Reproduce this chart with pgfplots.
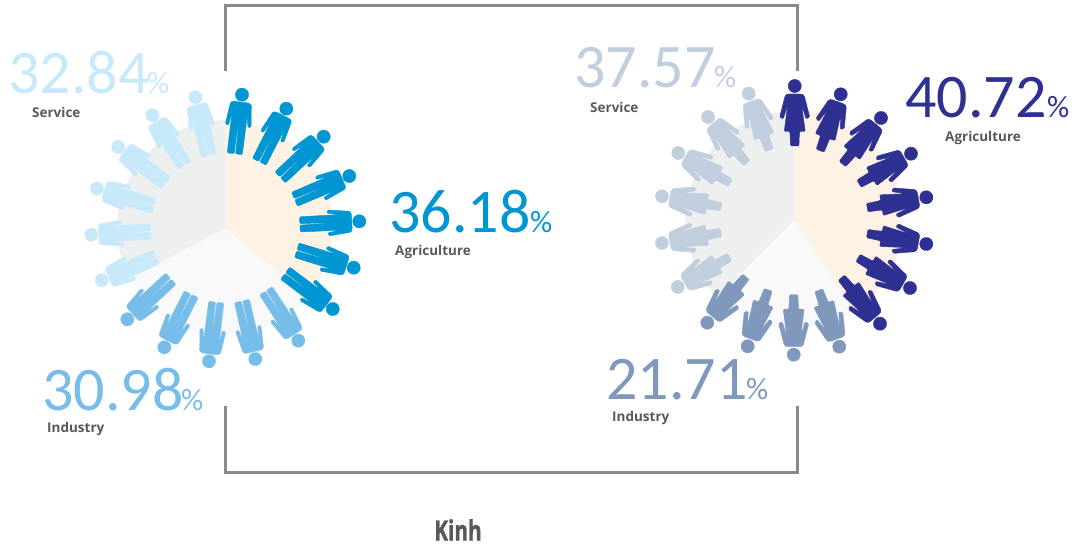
\documentclass[border=0pt]{standalone}
\usepackage{pgfplots}
\usepackage{graphicx}
\usepackage{fontspec}
\pgfplotsset{compat=1.18}
\setmainfont{Carlito}
\newfontfamily\lab{Open Sans}
\newfontfamily\kinhf{Open Sans}[BoldFeatures={FakeBold=1.5}]
\definecolor{gr}{HTML}{58595B}
\definecolor{fr}{HTML}{8A8A8D}
\definecolor{bga}{HTML}{FDF2E4}
\definecolor{bgi}{HTML}{F9F9F9}
\definecolor{bgs}{HTML}{EEF0EF}
\definecolor{la}{HTML}{0095D3}
\definecolor{li}{HTML}{77BDE9}
\definecolor{ls}{HTML}{C7E9F9}
\definecolor{ra}{HTML}{2E3192}
\definecolor{ri}{HTML}{7F98BC}
\definecolor{rs}{HTML}{C1CEDD}
\pgfdeclareplotmark{man}{%
  \fill[x=1pt,y=1pt] (0,0) circle (6.6);
  \fill[x=1pt,y=1pt,rounded corners=1.1pt]
    (-8,-7.5)--(8,-7.5)--(10.5,-9)--(13,-31)--(9.8,-32)--(7.8,-19)--(7.6,-59.5)--(0.7,-59.5)--(0.4,-34)--(-0.4,-34)--(-0.7,-59.5)--(-7.6,-59.5)--(-7.8,-19)--(-9.8,-32)--(-13,-31)--(-10.5,-9)--cycle;
}
\pgfdeclareplotmark{woman}{%
  \fill[x=1pt,y=1pt] (0,0) circle (6.6);
  \fill[x=1pt,y=1pt,rounded corners=1.1pt]
    (-7,-8)--(7,-8)--(9.5,-9.5)--(15,-31)--(11.5,-33)--(7,-19)--(10.5,-45.5)--(4.8,-45.5)--(4.2,-60)--(-4.2,-60)--(-4.8,-45.5)--(-10.5,-45.5)--(-7,-19)--(-11.5,-33)--(-15,-31)--(-9.5,-9.5)--cycle;
}
\pgfplotsset{person/.style={scatter,only marks,mark=#1,
  visualization depends on={\thisrow{a} \as \ang},
  scatter/@pre marker code/.code={\scope[rotate=-\ang]},
  scatter/@post marker code/.code={\endscope}}}
\newcommand{\num}[6]{% x, baseline, colour, number, pct x, pct baseline
  \node[anchor=base west,inner sep=0pt,text=#3,font=\fontsize{62}{62}\selectfont] at (axis cs:#1,#2) {#4};
  \node[anchor=base west,inner sep=0pt,text=#3,font=\fontsize{31}{31}\selectfont] at (axis cs:#5,#6) {\%};}
\newcommand{\lbl}[3]{\node[anchor=base west,inner sep=0pt,text=gr,font=\lab\bfseries\fontsize{13.5}{13.5}\selectfont] at (axis cs:#1,#2) {#3};}
\begin{document}
\begin{tikzpicture}
\begin{axis}[hide axis,scale only axis,width=1083pt,height=545pt,
  xmin=0,xmax=1083,ymin=0,ymax=545,y dir=reverse,clip=false]
% left pie
\addplot[fill=bga,draw=none] coordinates {(225,228)(225,120)(243.8,121.6)(261.9,126.5)(279,134.5)(294.4,145.3)(307.7,158.6)(318.5,174)(326.5,191.1)(331.4,209.2)(333,228)(331.4,246.8)(326.5,264.9)(318.5,282)(307.7,297.4)(307.5,297.7)} -- cycle;
\addplot[fill=bgi,draw=none] coordinates {(225,228)(307.5,297.7)(294.4,310.7)(279,321.5)(261.9,329.5)(243.8,334.4)(225,336)(206.2,334.4)(188.1,329.5)(171,321.5)(155.6,310.7)(142.3,297.4)(131.5,282)(129.9,279.2)} -- cycle;
\addplot[fill=bgs,draw=none] coordinates {(225,228)(129.9,279.2)(123.5,264.9)(118.6,246.8)(117,228)(118.6,209.2)(123.5,191.1)(131.5,174)(142.3,158.6)(155.6,145.3)(171,134.5)(188.1,126.5)(206.2,121.6)(225,120)} -- cycle;
% right pie
\addplot[fill=bga,draw=none] coordinates {(794,220)(794,111)(812.9,112.7)(831.3,117.6)(848.5,125.6)(864.1,136.5)(877.5,149.9)(888.4,165.5)(896.4,182.7)(901.3,201.1)(903,220)(901.3,238.9)(896.4,257.3)(888.4,274.5)(877.5,290.1)(864.1,303.5)(854,311)} -- cycle;
\addplot[fill=bgi,draw=none] coordinates {(794,220)(854,311)(848.5,314.4)(831.3,322.4)(812.9,327.3)(794,329)(775.1,327.3)(756.7,322.4)(739.5,314.4)(723.9,303.5)(717.2,297.3)} -- cycle;
\addplot[fill=bgs,draw=none] coordinates {(794,220)(717.2,297.3)(710.5,290.1)(699.6,274.5)(691.6,257.3)(686.7,238.9)(685,220)(686.7,201.1)(691.6,182.7)(699.6,165.5)(710.5,149.9)(723.9,136.5)(739.5,125.6)(756.7,117.6)(775.1,112.7)(794,111)} -- cycle;
% frame
\addplot[fr,line width=3pt,line join=miter] coordinates {(225,71)(225,6)(797,6)(797,71)};
\addplot[fr,line width=3pt,line join=miter] coordinates {(225,406)(225,472)(797,472)(797,406)};
% people, left
\addplot[person=man,color=la] table {
x y a
242 94.7 7
286.3 108.7 27
323.7 136.7 47
349.3 176 67
359.3 221.3 87
353.7 267.7 107
332.7 309 127
};
\addplot[person=man,color=li] table {
x y a
298.3 340.7 147
255.3 359 167
209 361.3 187
164.3 347.3 207
127.3 319.3 227
};
\addplot[person=man,color=ls] table {
x y a
101.7 280.3 247
91.3 234.7 267
97 188.7 287
118.3 147 307
152.3 115.3 327
195.3 97.3 347
};
% people, right
\addplot[person=woman,color=ra] table {
x y a
794.7 86 0
840.7 94.3 20
881 118 40
911 153.7 60
926.3 197.3 80
926.3 244 100
910 288 120
880 323.7 140
};
\addplot[person=woman,color=ri] table {
x y a
839.3 346.7 160
793.7 354.7 180
747.7 346.3 200
707.3 322.7 220
};
\addplot[person=woman,color=rs] table {
x y a
677.7 287 240
662 243 260
662 196.3 280
678.3 153 300
708 117 320
748.7 93.7 340
};
% texts
\num{8}{94}{ls}{32.84}{147}{94}
\lbl{32}{118}{Service}
\num{389}{233}{la}{36.18}{530}{233}
\lbl{395}{255}{Agriculture}
\num{42}{410}{li}{30.98}{181}{410}
\lbl{47}{432}{Industry}
\num{574}{88}{rs}{37.57}{714}{88}
\lbl{590}{113}{Service}
\num{905}{118}{ra}{40.72}{1047}{118}
\lbl{945}{142}{Agriculture}
\num{606}{399}{ri}{21.71}{746}{399}
\lbl{612}{421}{Industry}
\node[anchor=base,inner sep=0pt,text=gr,font=\kinhf\bfseries\fontsize{28}{28}\selectfont] at (axis cs:458,540.5) {\scalebox{0.74}[1]{Kinh}};
\path (axis cs:0,0) (axis cs:1083,545);
\end{axis}
\end{tikzpicture}
\end{document}
